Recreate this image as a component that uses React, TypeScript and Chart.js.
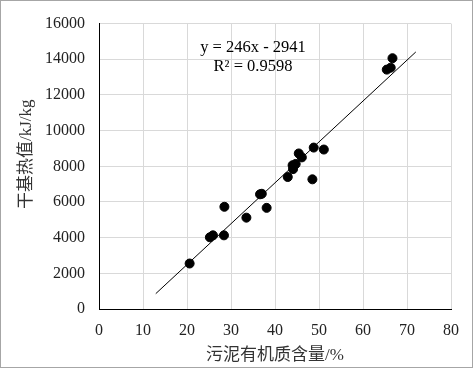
import React, { useEffect, useRef } from "react";
import { Chart, registerables } from "chart.js";

Chart.register(...registerables);

// Scatter data: sludge organic matter content (%) vs dry-basis heating value (kJ/kg)
const organicContent = [20.6, 25.2, 25.9, 28.4, 28.5, 33.5, 36.6, 37.0, 38.1, 42.9, 44.1, 44.0, 44.7, 45.4, 46.1, 48.5, 48.8, 51.1, 65.4, 66.3, 66.7];
const heatingValue = [2550, 4020, 4130, 4130, 5730, 5120, 6430, 6460, 5670, 7400, 7840, 8060, 8130, 8720, 8500, 7270, 9050, 8940, 13420, 13530, 14060];

// Linear trendline endpoints as drawn
const trendX = [12.9, 72.0];
const trendY = [860, 14410];

const equationLines = ["y = 246x - 2941", "R² = 0.9598"];
const equationAnchor = { x: 35.0, y: 14650 };

const xTitle = "污泥有机质含量/%";
const yTitle = "干基热值/kJ/kg";

const serif = "'Liberation Serif', 'Times New Roman', 'Noto Sans CJK SC', serif";
const cjk = "'Liberation Serif', 'Noto Sans CJK SC', sans-serif";

export default function App() {
  const ref = useRef<HTMLCanvasElement | null>(null);

  useEffect(() => {
    document.body.style.margin = "0";
    const canvas = ref.current;
    if (!canvas) return;

    const decorPlugin = {
      id: "decor",
      afterDatasetsDraw(chart: any) {
        const ctx = chart.ctx;
        const xs = chart.scales.x;
        const ys = chart.scales.y;
        const cx = xs.getPixelForValue(equationAnchor.x);
        const cy = ys.getPixelForValue(equationAnchor.y);
        ctx.save();
        ctx.fillStyle = "#000";
        ctx.font = `16.5px ${serif}`;
        ctx.textAlign = "center";
        ctx.textBaseline = "middle";
        equationLines.forEach((t, i) => ctx.fillText(t, cx, cy + i * 18.5));
        ctx.restore();
      },
      afterDraw(chart: any) {
        const ctx = chart.ctx;
        const area = chart.chartArea;
        ctx.save();
        // y-axis title
        ctx.translate(27, (area.top + area.bottom) / 2 - 12);
        ctx.rotate(-Math.PI / 2);
        ctx.fillStyle = "#333";
        ctx.font = `17px ${cjk}`;
        ctx.textAlign = "center";
        ctx.textBaseline = "middle";
        ctx.fillText(yTitle, 0, 0);
        ctx.restore();
        ctx.save();
        ctx.strokeStyle = "#a6a6a6";
        ctx.lineWidth = 1;
        ctx.strokeRect(0.5, 0.5, chart.width - 1, chart.height - 1);
        ctx.restore();
      },
    };

    const chart = new Chart(canvas, {
      type: "scatter",
      data: {
        datasets: [
          {
            label: "data",
            data: organicContent.map((x, i) => ({ x, y: heatingValue[i] })),
            backgroundColor: "#000",
            borderColor: "#000",
            pointRadius: 4.5,
            pointHoverRadius: 4.5,
          },
          {
            label: "trend",
            type: "line",
            data: trendX.map((x, i) => ({ x, y: trendY[i] })),
            borderColor: "#000",
            borderWidth: 1,
            pointRadius: 0,
            fill: false,
          } as any,
        ],
      },
      options: {
        animation: false,
        responsive: false,
        events: [],
        layout: { padding: { top: 18, right: 22, left: 0, bottom: 0 } },
        plugins: { legend: { display: false }, tooltip: { enabled: false } },
        scales: {
          x: {
            type: "linear",
            min: 0,
            max: 80,
            afterFit: (s: any) => { s.height = 59; },
            ticks: { stepSize: 10, padding: 12, color: "#222", font: { family: serif, size: 16 } },
            grid: { color: "#d9d9d9", drawTicks: false },
            border: { color: "#000", width: 1 },
            title: { display: true, text: xTitle, color: "#333", font: { family: cjk, size: 17 }, padding: { top: 0, bottom: 2 } },
          },
          y: {
            type: "linear",
            min: 0,
            max: 16000,
            afterFit: (s: any) => { s.width = 99; },
            ticks: {
              stepSize: 2000,
              padding: 14,
              color: "#222",
              font: { family: serif, size: 16 },
              callback: (v: any) => String(v),
            },
            grid: { color: "#d9d9d9", drawTicks: false },
            border: { color: "#000", width: 1 },
            title: { display: false },
          },
        },
      },
      plugins: [decorPlugin],
    });

    return () => chart.destroy();
  }, []);

  return (
    <div style={{ position: "absolute", left: 0, top: 0, width: 473, height: 368, background: "#fff" }}>
      <canvas ref={ref} width={473} height={368} style={{ width: 473, height: 368 }} />
    </div>
  );
}
